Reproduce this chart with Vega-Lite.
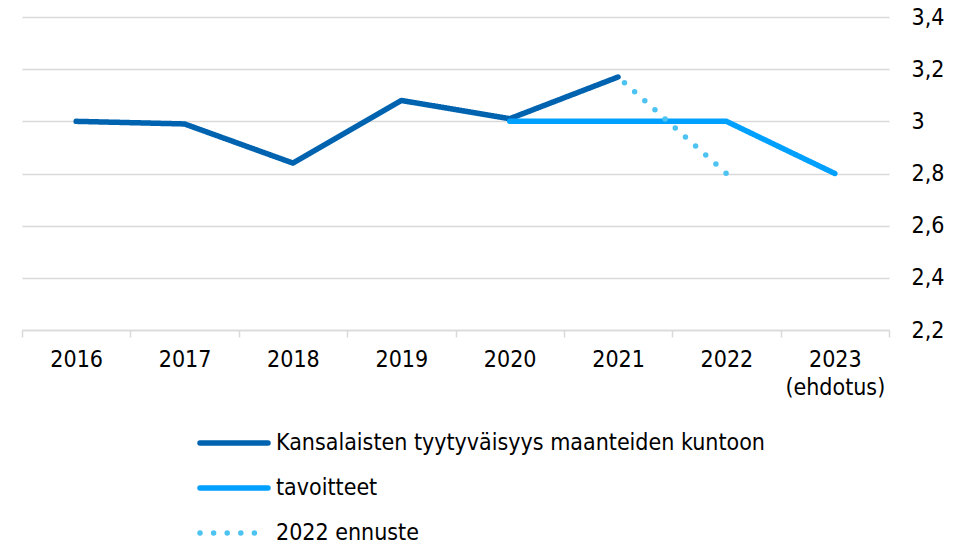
{
  "$schema": "https://vega.github.io/schema/vega-lite/v6.json",
  "width": 867,
  "height": 313,
  "autosize": {"type": "none"},
  "padding": {"left": 22, "top": 17, "right": 79, "bottom": 216},
  "background": "white",
  "data": {
    "values": [
      {"year": "2016", "value": 3.0, "series": "Kansalaisten tyytyväisyys maanteiden kuntoon"},
      {"year": "2017", "value": 2.99, "series": "Kansalaisten tyytyväisyys maanteiden kuntoon"},
      {"year": "2018", "value": 2.84, "series": "Kansalaisten tyytyväisyys maanteiden kuntoon"},
      {"year": "2019", "value": 3.08, "series": "Kansalaisten tyytyväisyys maanteiden kuntoon"},
      {"year": "2020", "value": 3.01, "series": "Kansalaisten tyytyväisyys maanteiden kuntoon"},
      {"year": "2021", "value": 3.17, "series": "Kansalaisten tyytyväisyys maanteiden kuntoon"},
      {"year": "2020", "value": 3.0, "series": "tavoitteet"},
      {"year": "2021", "value": 3.0, "series": "tavoitteet"},
      {"year": "2022", "value": 3.0, "series": "tavoitteet"},
      {"year": "2023", "value": 2.8, "series": "tavoitteet"},
      {"year": "2021", "value": 3.17, "series": "2022 ennuste"},
      {"year": "2022", "value": 2.8, "series": "2022 ennuste"}
    ]
  },
  "encoding": {
    "x": {
      "field": "year",
      "type": "nominal",
      "bandPosition": 0.5,
      "scale": {"type": "band", "domain": ["2016", "2017", "2018", "2019", "2020", "2021", "2022", "2023"], "paddingInner": 0, "paddingOuter": 0},
      "axis": {
        "title": null,
        "labelAngle": 0,
        "tickBand": "extent",
        "tickSize": 7,
        "tickColor": "#d9d9d9",
        "tickWidth": 1.5,
        "domainColor": "#d9d9d9",
        "domainWidth": 1.5,
        "labelFont": "DejaVu Sans Condensed",
        "labelFontSize": 23,
        "labelColor": "#000000",
        "labelPadding": 11,
        "labelLineHeight": 28,
        "labelExpr": "datum.value == '2023' ? ['2023', '(ehdotus)'] : datum.value",
        "grid": false
      }
    },
    "y": {
      "field": "value",
      "type": "quantitative",
      "scale": {"domain": [2.2, 3.4], "nice": false, "zero": false},
      "axis": {
        "orient": "right",
        "title": null,
        "values": [2.2, 2.4, 2.6, 2.8, 3.0, 3.2, 3.4],
        "domain": false,
        "ticks": false,
        "grid": true,
        "gridColor": "#d9d9d9",
        "gridWidth": 1.5,
        "labelFont": "DejaVu Sans Condensed",
        "labelFontSize": 23,
        "labelColor": "#000000",
        "labelPadding": 22,
        "labelExpr": "replace(format(datum.value, '.1~f'), '.', ',')"
      }
    },
    "color": {
      "field": "series",
      "type": "nominal",
      "scale": {
        "domain": ["Kansalaisten tyytyväisyys maanteiden kuntoon", "tavoitteet", "2022 ennuste"],
        "range": ["#0063af", "#00a0ff", "#4dc3f2"]
      },
      "legend": {
        "title": null,
        "orient": "none",
        "legendX": 175,
        "legendY": 414,
        "direction": "vertical",
        "symbolType": "stroke",
        "symbolSize": 4624,
        "symbolStrokeWidth": 5.5,
        "clipHeight": 24,
        "labelFont": "DejaVu Sans Condensed",
        "labelFontSize": 23,
        "labelColor": "#000000",
        "labelOffset": 5,
        "labelLimit": 0,
        "rowPadding": 21,
        "padding": 0,
        "encode": {"symbols": {"update": {"strokeCap": {"value": "round"}}}}
      }
    },
    "strokeDash": {
      "field": "series",
      "type": "nominal",
      "scale": {
        "domain": ["Kansalaisten tyytyväisyys maanteiden kuntoon", "tavoitteet", "2022 ennuste"],
        "range": [[1, 0], [1, 0], [0, 13.6]]
      },
      "legend": {
        "title": null,
        "orient": "none",
        "legendX": 175,
        "legendY": 414,
        "direction": "vertical",
        "symbolType": "stroke",
        "symbolSize": 4624,
        "symbolStrokeWidth": 5.5,
        "clipHeight": 24,
        "labelFont": "DejaVu Sans Condensed",
        "labelFontSize": 23,
        "labelColor": "#000000",
        "labelOffset": 5,
        "labelLimit": 0,
        "rowPadding": 21,
        "padding": 0,
        "encode": {"symbols": {"update": {"strokeCap": {"value": "round"}}}}
      }
    }
  },
  "layer": [
    {
      "transform": [{"filter": "datum.series == 'Kansalaisten tyytyväisyys maanteiden kuntoon'"}],
      "mark": {"type": "line", "strokeWidth": 5.5, "strokeCap": "round", "strokeJoin": "round"}
    },
    {
      "transform": [{"filter": "datum.series == 'tavoitteet'"}],
      "mark": {"type": "line", "strokeWidth": 5.5, "strokeCap": "round", "strokeJoin": "round"}
    },
    {
      "transform": [{"filter": "datum.series == '2022 ennuste'"}],
      "mark": {"type": "line", "strokeWidth": 5.5, "strokeCap": "round", "strokeJoin": "round", "strokeDashOffset": 5}
    }
  ],
  "config": {
    "view": {"stroke": null},
    "font": "DejaVu Sans Condensed"
  }
}
